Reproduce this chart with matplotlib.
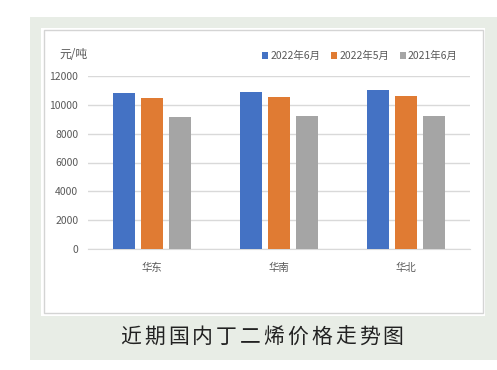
import numpy as np
import matplotlib
matplotlib.use("Agg")
import matplotlib.pyplot as plt
from matplotlib.patches import Rectangle

plt.rcParams['font.family'] = ['Noto Sans CJK SC', 'DejaVu Sans']

regions = ['华东', '华南', '华北']
series = ['2022年6月', '2022年5月', '2021年6月']
jun22 = [10850, 10900, 11000]
may22 = [10450, 10550, 10600]
jun21 = [9150, 9250, 9250]
colors = ['#4472C4', '#E07B33', '#A5A5A5']
yticks = [0, 2000, 4000, 6000, 8000, 10000, 12000]
title = '近期国内丁二烯价格走势图'

W, H = 497, 370
fig = plt.figure(figsize=(W / 100, H / 100), dpi=100)
fig.patch.set_facecolor('white')

def box(x0, y0, x1, y1, **kw):
	# pixel coords from top-left
	fig.patches.append(Rectangle((x0 / W, 1 - y1 / H), (x1 - x0) / W, (y1 - y0) / H,
		transform=fig.transFigure, zorder=-10, **kw))

box(30, 17, 497, 360, facecolor='#E8EDE6', edgecolor='none')
box(41, 28, 485, 316, facecolor='white', edgecolor='none')
box(44, 30, 483, 313, facecolor='white', edgecolor='#D4D4D4', lw=1)

ax = fig.add_axes([88 / W, 1 - 249 / H, (470 - 88) / W, (249 - 76) / H])
ax.set_facecolor('none')

x = np.arange(len(regions))
bw = 0.173
step = 0.22
for i, (vals, name) in enumerate(zip([jun22, may22, jun21], series)):
	ax.bar(x + (i - 1) * step, vals, bw, color=colors[i], label=name, zorder=3)

ax.set_xlim(-0.5, len(regions) - 0.5)
ax.set_ylim(0, 12000)
ax.set_yticks(yticks)
ax.set_yticklabels([str(t) for t in yticks], fontsize=7.5, color='#595959')
ax.set_xticks(x)
ax.set_xticklabels(regions, fontsize=7.5, color='#595959')
ax.tick_params(axis='both', length=0)
ax.tick_params(axis='y', pad=7)
ax.tick_params(axis='x', pad=10)
ax.grid(axis='y', color='#D9D9D9', lw=1, zorder=0)
for s in ['top', 'right', 'left']:
	ax.spines[s].set_visible(False)
ax.spines['bottom'].set_color('#D9D9D9')

fig.text(59 / W, 1 - 54 / H, '元/吨', fontsize=8.5, color='#595959', va='center', ha='left')

leg = ax.legend(loc='center', bbox_to_anchor=((360 - 88) / (470 - 88), 1 + (76 - 56) / (249 - 76)),
	ncol=3, frameon=False, fontsize=7.5, handlelength=0.6, handleheight=0.6,
	handletextpad=0.2, columnspacing=1.0, borderaxespad=0)
for t in leg.get_texts():
	t.set_color('#595959')

# title spaced out like the print caption
tx = np.linspace(131, 393, len(title))
for cx, ch in zip(tx, title):
	fig.text(cx / W, 1 - 337 / H, ch, fontsize=15, color='#222222', ha='center', va='center')

fig.savefig('out.png', dpi=100, facecolor='white')
